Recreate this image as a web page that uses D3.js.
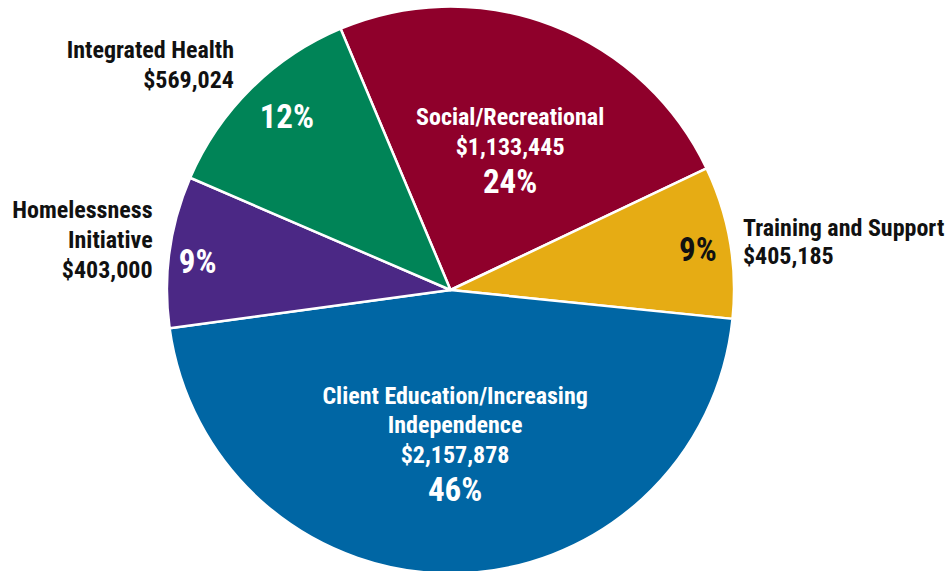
<!DOCTYPE html>
<html>
<head>
<meta charset="utf-8">
<script src="https://cdn.jsdelivr.net/npm/d3@7"></script>
<style>
  body { margin: 0; background: #fff; }
  svg { display: block; }
  text { font-family: "Roboto Condensed", Roboto, "Liberation Sans", sans-serif; font-weight: 700; }
</style>
</head>
<body>
<svg width="951" height="571"></svg>
<script>
// data
const categories = ["Social/Recreational", "Training and Support", "Client Education/Increasing Independence", "Homelessness Initiative", "Integrated Health"]
const amounts = [1133445, 405185, 2157878, 403000, 569024]
const percentLabels = ["24%", "9%", "46%", "9%", "12%"]
const colors = ["#8f002b", "#e6ac14", "#0066a4", "#4b2885", "#008457"]

// how each name is broken into lines
const nameLines = [
  ["Social/Recreational"],
  ["Training and Support"],
  ["Client Education/Increasing", "Independence"],
  ["Homelessness", "Initiative"],
  ["Integrated Health"]
]

const svg = d3.select("svg")
const cx = 450.5, cy = 290, radius = 283.5
const nameSize = 24

const fmt = d3.format("$,")

const data = categories.map((c, i) => {
  return { name: c, amount: amounts[i], pct: percentLabels[i], color: colors[i], lines: nameLines[i] }
})

const pie = d3.pie()
  .sort(null)
  .value(d => d.amount)
  .startAngle(-22.8 * Math.PI / 180)
  .endAngle((360 - 22.8) * Math.PI / 180)

const arcs = pie(data)

const arc = d3.arc()
  .innerRadius(0)
  .outerRadius(radius)

const g = svg.append("g")
  .attr("transform", `translate(${cx},${cy})`)

// slices
g.selectAll("path.slice")
  .data(arcs)
  .enter()
  .append("path")
  .attr("class", "slice")
  .attr("d", arc)
  .attr("fill", d => d.data.color)
  .attr("stroke", "#fff")
  .attr("stroke-width", 2.5)
  .attr("stroke-linejoin", "round")

// where each label block sits: radius factor on the mid angle plus a nudge
// inside: name + amount + pct all in the slice, else name outside
const layout = [
  { inside: true, r: 0.55, dx: 4, dy: [-19, 11], pdy: 49, pct: 33, pctColor: "#fff" },
  { inside: false, r: 1.0, dx: 13, dy: [-6, 22], anchor: "start", pr: 0.9, pdx: -4, pdy: 14, pct: 33, pctColor: "#111" },
  { inside: true, r: 0.55, dx: 2, dy: [-42, -13, 17], pdy: 55, pct: 33, pctColor: "#fff" },
  { inside: false, r: 1.0, dx: -17, dy: [-34, -4, 26], anchor: "end", pr: 0.9, pdx: 0, pdy: 18, pct: 33, pctColor: "#fff" },
  { inside: false, r: 1.0, dx: -17, dy: [-31, -1], anchor: "end", pr: 0.83, pdx: 2, pdy: 5, pct: 33, pctColor: "#fff" }
]

const labelArc = r => d3.arc().innerRadius(r * radius).outerRadius(r * radius)

// write one line of text
const addLine = (x, y, str, size, fill, anchor) => {
  g.append("text")
    .attr("x", x)
    .attr("y", y)
    .attr("text-anchor", anchor)
    .attr("font-size", size)
    .attr("fill", fill)
    .text(str)
}

arcs.forEach((d, i) => {
  const L = layout[i]
  const [ax, ay] = labelArc(L.r).centroid(d)
  const lines = d.data.lines.concat([fmt(d.data.amount)])
  if (L.inside) {
    lines.forEach((s, j) => addLine(ax + L.dx, ay + L.dy[j], s, nameSize, "#fff", "middle"))
    addLine(ax + L.dx, ay + L.pdy, d.data.pct, L.pct, L.pctColor, "middle")
  } else {
    lines.forEach((s, j) => addLine(ax + L.dx, ay + L.dy[j], s, nameSize, "#111", L.anchor))
    const [px, py] = labelArc(L.pr).centroid(d)
    addLine(px + L.pdx, py + L.pdy, d.data.pct, L.pct, L.pctColor, "middle")
  }
})
</script>
</body>
</html>
